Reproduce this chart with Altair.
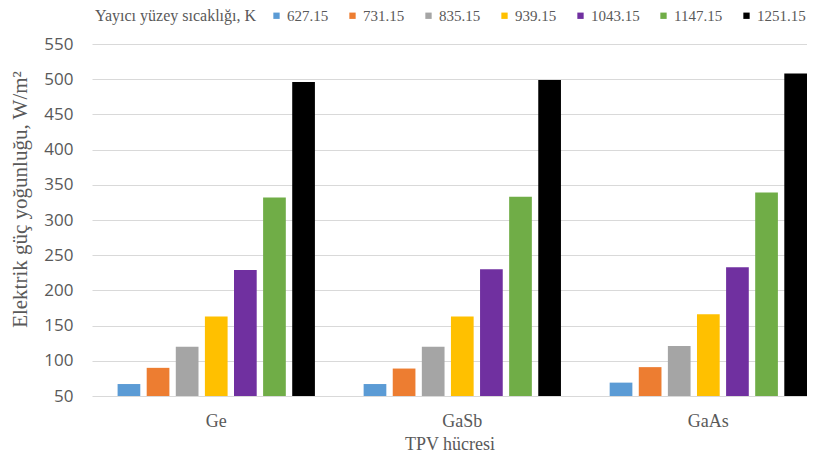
import altair as alt
import pandas as pd

cells = ["Ge", "GaSb", "GaAs"]
temps = ["627.15", "731.15", "835.15", "939.15", "1043.15", "1147.15", "1251.15"]
ge_vals = [67, 90, 120, 163, 229, 332, 496]
gasb_vals = [67, 89, 120, 163, 230, 333, 499]
gaas_vals = [69, 91, 121, 166, 233, 339, 508]
colors = ["#5B9BD5", "#ED7D31", "#A5A5A5", "#FFC000", "#7030A0", "#70AD47", "#000000"]
y_ticks = [50, 100, 150, 200, 250, 300, 350, 400, 450, 500, 550]

rows = []
for cell, vals in zip(cells, [ge_vals, gasb_vals, gaas_vals]):
    for t, v in zip(temps, vals):
        rows.append({"cell": cell, "temp": t, "value": v})
df = pd.DataFrame(rows)

serif = "Liberation Serif"
gray = "#595959"

chart = alt.Chart(df).mark_bar().encode(
    x=alt.X("cell:N", sort=cells,
            scale=alt.Scale(paddingInner=0.198, paddingOuter=0.052, align=1),
            axis=alt.Axis(title="TPV hücresi", labelAngle=0, ticks=False, domain=False,
                          labelFont=serif, labelFontSize=18, labelColor=gray, labelPadding=16,
                          titleFont=serif, titleFontSize=18, titleColor=gray, titleFontWeight="normal",
                          titleBaseline="alphabetic", titleY=53)),
    xOffset=alt.XOffset("temp:N", sort=temps,
                        scale=alt.Scale(paddingInner=0.22, paddingOuter=0)),
    y=alt.Y("value:Q", scale=alt.Scale(domain=[50, 550], zero=False, nice=False),
            axis=alt.Axis(values=y_ticks, title="Elektrik güç yoğunluğu, W/m²", ticks=False, domain=False,
                          gridColor="#D9D9D9", gridWidth=1,
                          labelFont="Open Sans", labelFontSize=17, labelColor=gray, labelPadding=19,
                          titleFont=serif, titleFontSize=21, titleColor=gray, titleFontWeight="normal",
                          titleAngle=270, titleAlign="center", titleBaseline="middle",
                          titleX=-72, titleY=155)),
    y2=alt.Y2(datum=50),
    color=alt.Color("temp:N", sort=temps, scale=alt.Scale(domain=temps, range=colors),
                    legend=alt.Legend(title="Yayıcı yüzey sıcaklığı, K", orient="none",
                                      legendX=3, legendY=-36, direction="horizontal",
                                      titleOrient="left", titleFont=serif, titleFontSize=16,
                                      titleColor=gray, titleFontWeight="normal", titlePadding=12,
                                      labelFont=serif, labelFontSize=15, labelColor=gray,
                                      symbolType="square", symbolSize=40, symbolStrokeWidth=0,
                                      labelOffset=3, columnPadding=16, labelLimit=80)),
).properties(
    width=715, height=352,
    autosize=alt.AutoSizeParams(type="none"),
    padding={"left": 84, "top": 36, "right": 0, "bottom": 58},
).configure_view(stroke=None)

chart.save("out.html", embed_options={"renderer": "svg", "actions": False})
